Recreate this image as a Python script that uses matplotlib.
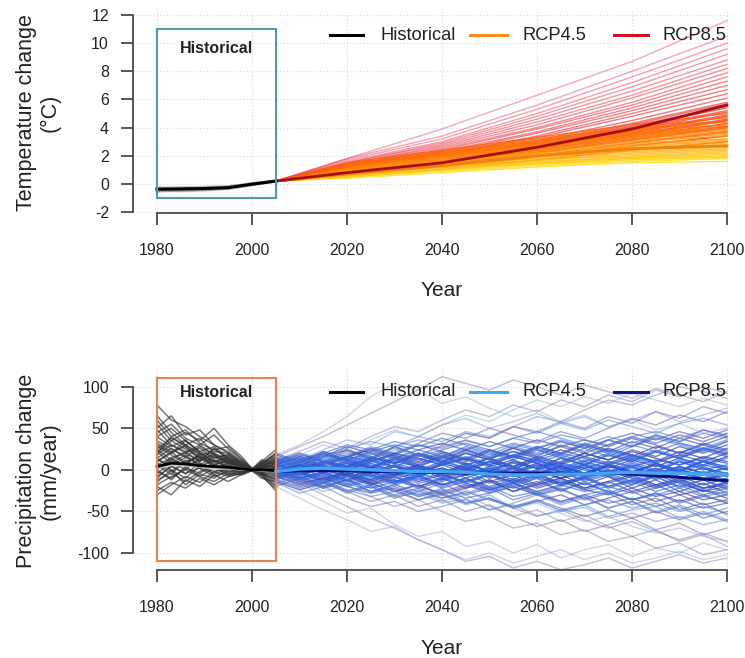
import matplotlib
matplotlib.use('Agg')
import matplotlib.pyplot as plt
import numpy as np
from matplotlib.lines import Line2D
from matplotlib.patches import Rectangle
from matplotlib.colors import to_rgb

plt.rcParams['font.family'] = ['Liberation Sans', 'DejaVu Sans']
plt.rcParams['axes.unicode_minus'] = False

# ---------------- DATA ----------------
# Temperature change (degC)
T_HIST_YEARS = [1980, 1985, 1990, 1995, 2000, 2005]
T_HIST_MEAN = [-0.38, -0.36, -0.33, -0.27, -0.02, 0.20]
T_HIST_MEMBERS = [
    [-0.30, -0.25, -0.28, -0.20, 0.00, 0.20],
    [-0.45, -0.48, -0.40, -0.32, -0.05, 0.20],
    [-0.50, -0.42, -0.45, -0.35, -0.08, 0.20],
    [-0.35, -0.30, -0.22, -0.18, 0.02, 0.20],
    [-0.42, -0.52, -0.44, -0.30, -0.04, 0.20],
    [-0.28, -0.34, -0.30, -0.24, 0.01, 0.20],
    [-0.55, -0.45, -0.38, -0.28, -0.06, 0.20],
]

T_FUT_YEARS = [2005, 2020, 2040, 2060, 2080, 2100]
T_RCP45_MEAN = [0.2, 0.7, 1.3, 2.0, 2.5, 2.7]
T_RCP85_MEAN = [0.2, 0.8, 1.5, 2.6, 3.9, 5.6]
T_RCP45_MEMBERS = [
    [0.2, 0.4, 0.8, 1.2, 1.5, 1.6],
    [0.2, 0.5, 0.9, 1.3, 1.6, 1.8],
    [0.2, 0.5, 1.1, 1.4, 1.8, 1.9],
    [0.2, 0.5, 1.0, 1.4, 1.7, 1.9],
    [0.2, 0.6, 1.0, 1.5, 1.8, 2.0],
    [0.2, 0.6, 1.1, 1.5, 1.9, 2.1],
    [0.2, 0.7, 1.1, 1.6, 1.9, 2.2],
    [0.2, 0.6, 1.2, 1.7, 2.0, 2.3],
    [0.2, 0.7, 1.2, 1.7, 2.1, 2.4],
    [0.2, 0.8, 1.3, 1.8, 2.2, 2.5],
    [0.2, 0.7, 1.3, 1.9, 2.3, 2.6],
    [0.2, 0.8, 1.4, 1.9, 2.4, 2.7],
    [0.2, 0.9, 1.4, 2.0, 2.5, 2.8],
    [0.2, 0.8, 1.5, 2.1, 2.6, 2.9],
    [0.2, 0.9, 1.5, 2.2, 2.7, 3.0],
    [0.2, 1.0, 1.6, 2.2, 2.8, 3.1],
    [0.2, 0.9, 1.6, 2.3, 2.9, 3.2],
    [0.2, 1.0, 1.7, 2.4, 3.0, 3.4],
    [0.2, 1.1, 1.8, 2.5, 3.1, 3.5],
    [0.2, 1.0, 1.8, 2.6, 3.2, 3.6],
    [0.2, 1.1, 1.9, 2.7, 3.3, 3.7],
    [0.2, 1.1, 1.9, 2.7, 3.4, 3.8],
    [0.2, 1.2, 2.0, 2.8, 3.5, 3.9],
    [0.2, 1.2, 2.0, 2.8, 3.5, 4.0],
    [0.2, 1.2, 2.1, 2.9, 3.6, 4.1],
    [0.2, 1.2, 2.1, 2.9, 3.7, 4.2],
    [0.2, 1.3, 2.2, 3.0, 3.8, 4.4],
    [0.2, 1.3, 2.2, 3.1, 3.9, 4.5],
    [0.2, 1.4, 2.3, 3.2, 4.0, 4.7],
    [0.2, 1.5, 2.4, 3.3, 4.2, 5.0],
]
T_RCP85_MEMBERS = [
    [0.2, 0.5, 1.0, 1.7, 2.4, 3.0],
    [0.2, 0.6, 1.1, 1.9, 2.7, 3.4],
    [0.2, 0.6, 1.2, 2.0, 2.9, 3.7],
    [0.2, 0.7, 1.3, 2.2, 3.1, 4.0],
    [0.2, 0.7, 1.3, 2.2, 3.2, 4.1],
    [0.2, 0.7, 1.4, 2.3, 3.3, 4.3],
    [0.2, 0.8, 1.4, 2.4, 3.4, 4.5],
    [0.2, 0.8, 1.5, 2.4, 3.5, 4.6],
    [0.2, 0.8, 1.5, 2.5, 3.6, 4.8],
    [0.2, 0.8, 1.5, 2.5, 3.7, 4.9],
    [0.2, 0.9, 1.6, 2.6, 3.8, 5.1],
    [0.2, 0.9, 1.6, 2.7, 3.9, 5.2],
    [0.2, 0.9, 1.7, 2.7, 4.0, 5.4],
    [0.2, 0.9, 1.7, 2.8, 4.1, 5.5],
    [0.2, 1.0, 1.8, 2.9, 4.2, 5.7],
    [0.2, 1.0, 1.8, 3.0, 4.3, 5.8],
    [0.2, 1.0, 1.9, 3.1, 4.5, 6.1],
    [0.2, 1.1, 2.0, 3.3, 4.8, 6.4],
    [0.2, 1.1, 2.1, 3.4, 5.0, 6.7],
    [0.2, 1.2, 2.2, 3.6, 5.2, 7.0],
    [0.2, 1.2, 2.3, 3.7, 5.4, 7.3],
    [0.2, 1.3, 2.4, 3.9, 5.6, 7.6],
    [0.2, 1.3, 2.5, 4.0, 5.8, 7.9],
    [0.2, 1.4, 2.6, 4.2, 6.1, 8.2],
    [0.2, 1.4, 2.7, 4.4, 6.3, 8.5],
    [0.2, 1.5, 2.8, 4.6, 6.6, 8.8],
    [0.2, 1.5, 2.9, 4.8, 6.9, 9.2],
    [0.2, 1.6, 3.0, 5.0, 7.2, 9.6],
    [0.2, 1.7, 3.2, 5.3, 7.6, 10.0],
    [0.2, 1.8, 3.4, 5.6, 8.0, 10.5],
    [0.2, 1.8, 3.9, 6.3, 8.7, 11.6],
]

# Precipitation change (mm/year)
P_HIST_YEARS = [1980, 1983, 1986, 1989, 1992, 1995, 1998, 2000, 2002, 2005]
P_HIST_MEAN = [4, 8, 7, 5, 4, 3, 1, 0, 0, -1]
P_HIST_MEAN2 = [2, 6, 5, 4, 1, 2, 0, 0, -1, -2]
P_HIST_MEMBERS = [
    [78, 60, 52, 40, 30, 22, 10, 0, 8, 20],
    [45, 55, 38, 30, 42, 25, 12, 1, -6, -18],
    [30, 20, 35, 22, 15, 18, 6, -1, 10, 24],
    [-25, -15, -22, -10, -18, -8, -4, 0, -8, -22],
    [10, 22, 8, 18, 6, 12, 3, 0, 5, 12],
    [60, 40, 48, 32, 24, 28, 12, 2, -4, 4],
    [-10, 5, -5, 8, -6, 2, -2, 0, 6, -5],
    [20, 35, 45, 35, 50, 30, 15, 1, 12, 6],
    [0, -12, 4, -8, -14, -4, -6, -1, -10, -14],
    [35, 25, 15, 28, 18, 8, 4, 0, 3, 15],
    [-20, -30, -12, -20, -6, -14, -5, 0, 4, 10],
    [50, 65, 42, 48, 30, 20, 8, 1, 10, 2],
    [5, -5, 12, 2, -4, 6, 2, 0, -4, -10],
    [25, 12, 22, 10, 20, 10, 5, 0, -3, 8],
    [-5, 10, 0, 14, 4, -6, -3, -1, 8, 18],
    [40, 28, 36, 20, 10, 16, 6, 0, -6, -2],
    [15, 0, -10, 5, -2, 4, 0, 0, 2, -8],
    [65, 45, 30, 38, 20, 12, 6, 1, 4, 12],
    [-15, 0, -18, -5, -10, 0, -2, 0, 5, 20],
    [20, 40, 28, 12, 25, 15, 7, 0, -5, -15],
    [10, 20, 30, 20, 12, 4, 2, 0, 6, 0],
    [-30, -18, -8, -15, -2, -8, -4, -1, -6, -25],
    [55, 35, 25, 15, 6, 10, 4, 0, 2, 8],
    [0, 15, 20, 10, 26, 12, 6, 0, -2, 2],
    [12, 5, 15, 8, 2, 8, 3, 0, -3, -8],
    [28, 18, 8, 16, 10, 4, 2, 0, 4, 10],
    [-8, 4, -4, 2, -8, -2, -3, 0, 2, 6],
    [18, 30, 22, 26, 14, 18, 8, 1, -4, -12],
    [6, 14, 4, 12, 18, 8, 4, 0, 7, 14],
    [40, 50, 35, 22, 28, 14, 7, 1, 3, -4],
    [-12, -4, -14, -2, 4, -4, -1, 0, -5, -12],
    [22, 8, 18, 4, 12, 2, 1, 0, 6, 3],
    [2, 12, 6, 20, 10, 14, 5, 0, -2, 4],
    [32, 22, 28, 16, 8, 12, 3, 0, 8, 16],
    [-18, -8, 0, -8, 2, -6, -2, 0, -4, 0],
    [14, 26, 16, 6, 16, 6, 2, 0, 3, -6],
    [48, 30, 20, 30, 18, 10, 5, 1, -2, 10],
    [-2, -10, 2, -4, 6, 2, 1, 0, 2, -2],
    [8, -2, 10, 16, 4, -2, 0, 0, -6, -20],
    [25, 38, 30, 18, 22, 20, 9, 1, 5, 0],
]

P_FUT_YEARS = [2005, 2010, 2015, 2020, 2025, 2030, 2035, 2040, 2045, 2050,
               2055, 2060, 2065, 2070, 2075, 2080, 2085, 2090, 2095, 2100]
P_RCP45_MEAN = [-2, 1, 2, 1, 0, -1, -2, -2, -3, -5, -6, -6, -5, -5, -4, -3, -4, -4, -5, -6]
P_RCP85_MEAN = [-2, -1, -1, -1, -2, -2, -3, -3, -4, -4, -4, -4, -4, -5, -4, -5, -7, -9, -11, -13]
P_RCP45_MEMBERS = [
    [5, 12, 8, 18, 25, 20, 30, 26, 35, 28, 38, 32, 42, 36, 30, 40, 46, 38, 48, 42],
    [-8, -18, -12, -25, -20, -32, -28, -40, -35, -48, -42, -55, -50, -45, -58, -52, -62, -56, -66, -60],
    [2, -6, 6, 0, 10, 4, -4, 8, 14, 6, 18, 10, 2, 12, 6, 16, 8, 0, 10, 4],
    [15, 8, 22, 12, 4, 16, 6, -6, 5, -8, 2, -10, -2, -14, -6, -16, -8, -20, -12, -22],
    [-18, -6, -20, -10, -28, -16, -32, -22, -40, -30, -46, -36, -50, -42, -56, -48, -44, -58, -50, -60],
    [0, 12, 24, 36, 30, 46, 40, 54, 62, 50, 58, 68, 56, 64, 52, 60, 70, 58, 66, 74],
    [-4, -12, -6, -18, -10, -2, -12, -4, -16, -6, -20, -10, -26, -14, -28, -18, -8, -22, -12, -24],
    [10, 2, 16, 24, 12, 28, 18, 8, 22, 14, 28, 20, 34, 26, 16, 28, 38, 30, 22, 34],
    [-10, -24, -38, -52, -46, -66, -80, -74, -92, -86, -100, -90, -106, -96, -90, -104, -94, -100, -88, -96],
    [6, -2, 10, 0, -8, 4, -6, 6, -4, 10, 0, 12, 2, -8, 6, -6, 8, -2, 12, 2],
    [18, 30, 46, 64, 88, 104, 96, 80, 88, 74, 64, 72, 58, 66, 52, 60, 48, 56, 44, 50],
    [-2, 8, -4, 6, 16, 8, 20, 12, 2, 14, 4, -6, 6, -4, 8, -2, -12, 0, -10, -4],
    [12, 20, 14, 26, 34, 28, 40, 34, 46, 40, 52, 44, 56, 48, 60, 52, 44, 56, 62, 54],
    [-12, -4, -16, -26, -18, -30, -22, -34, -28, -20, -32, -26, -38, -30, -24, -36, -28, -40, -32, -38],
    [4, 14, 6, -4, -14, -8, -20, -30, -24, -36, -46, -40, -52, -62, -56, -68, -76, -70, -80, -86],
    [-6, 4, 14, 8, 20, 14, 4, 16, 26, 18, 30, 24, 14, 26, 36, 28, 40, 32, 26, 36],
    [20, 10, 0, 8, -4, 6, -6, 2, -10, 0, 10, 2, 14, 6, -4, 8, -2, 10, 0, 6],
    [-15, -28, -20, -34, -44, -38, -50, -44, -36, -48, -40, -30, -42, -34, -46, -38, -50, -42, -54, -46],
    [8, 18, 30, 22, 36, 48, 40, 54, 66, 58, 72, 84, 76, 88, 80, 92, 84, 76, 86, 78],
    [-3, -10, -2, -12, -22, -14, -6, -18, -10, -22, -14, -4, -16, -8, -20, -12, -2, -14, -6, -16],
    [3, -8, -20, -12, -26, -18, -10, -22, -14, -4, -16, -8, 2, -10, -2, 10, 0, 12, 4, -6],
    [-20, -34, -48, -60, -74, -68, -84, -96, -108, -100, -112, -104, -96, -108, -100, -112, -106, -98, -108, -102],
    [14, 6, 18, 10, 22, 30, 24, 16, 28, 20, 12, 24, 16, 6, 18, 10, 22, 14, 4, 14],
    [-7, 2, -8, 4, -6, -16, -8, -20, -12, -24, -16, -28, -20, -10, -22, -14, -26, -18, -30, -22],
    [-3, 5, -2, 8, 0, 10, 4, -4, 6, -2, 8, 2, -6, 4, -4, 6, -2, 10, 2, -4],
    [8, 14, 6, 16, 10, 20, 12, 22, 14, 24, 16, 8, 18, 10, 20, 12, 22, 14, 24, 16],
    [-10, -4, -14, -8, -18, -12, -22, -14, -6, -16, -10, -20, -12, -24, -16, -8, -18, -12, -22, -14],
    [0, -10, -4, -14, -6, -16, -8, 2, -6, 4, -4, 6, -2, -12, -4, -14, -6, 4, -4, -12],
    [12, 4, 10, 2, 12, 4, 14, 6, 16, 8, 18, 28, 20, 30, 22, 14, 24, 16, 26, 20],
    [-6, -14, -22, -16, -26, -20, -30, -24, -34, -28, -20, -30, -24, -34, -26, -36, -30, -22, -32, -26],
    [4, 10, 18, 12, 4, 12, 20, 14, 6, 14, 22, 16, 8, 16, 24, 18, 10, 18, 26, 20],
    [-2, 6, 0, -8, -2, -10, -4, -12, -6, 2, -6, 0, 8, 2, 10, 4, -4, 4, -4, 2],
    [6, -2, -10, -4, -12, -2, -8, 0, -6, 2, -4, 4, -2, 6, -2, 4, 12, 6, 14, 8],
    [-8, 0, 8, 16, 10, 20, 14, 6, 14, 6, -2, 6, -2, 8, 0, -8, 0, -10, -2, -8],
    [2, 12, 20, 30, 24, 34, 28, 38, 30, 22, 32, 26, 36, 28, 20, 30, 22, 32, 24, 34],
    [-12, -20, -14, -24, -32, -26, -36, -30, -40, -34, -44, -38, -48, -42, -36, -46, -40, -50, -44, -52],
    [10, 18, 12, 4, 14, 8, 0, 10, 2, -6, 4, -4, 6, 0, -8, 2, -6, 4, -4, 2],
    [-4, -10, -16, -8, 0, -8, -16, -10, -18, -26, -18, -10, -18, -26, -20, -28, -22, -14, -24, -30],
    [0, 8, 16, 8, 18, 26, 18, 28, 36, 28, 38, 46, 38, 30, 40, 32, 42, 34, 44, 38],
    [6, 0, 8, 14, 6, -2, 4, -4, 2, 10, 18, 12, 20, 14, 6, 14, 6, -2, 6, 0],
]
P_RCP85_MEMBERS = [
    [-5, 6, -4, 10, 2, 14, 6, 18, 10, 22, 14, 26, 18, 30, 22, 34, 26, 38, 30, 40],
    [10, 0, -12, -4, -16, -26, -18, -30, -42, -34, -46, -56, -48, -60, -70, -62, -74, -84, -76, -86],
    [-12, -22, -14, -28, -20, -34, -26, -16, -30, -22, -36, -28, -40, -32, -46, -38, -52, -44, -58, -50],
    [6, 16, 8, 22, 14, 28, 36, 30, 44, 38, 52, 46, 58, 50, 64, 56, 70, 62, 76, 68],
    [0, -8, 4, -6, -16, -8, -20, -12, -2, -14, -6, -18, -10, -22, -14, -26, -18, -30, -24, -34],
    [18, 8, 20, 12, 2, 14, 4, 16, 8, -2, 10, 2, 14, 6, 18, 10, 22, 14, 26, 18],
    [-16, -6, -18, -8, -20, -32, -24, -38, -30, -44, -56, -48, -62, -54, -68, -80, -72, -86, -78, -92],
    [4, 12, 4, 14, 26, 18, 30, 22, 12, 24, 16, 28, 20, 32, 24, 16, 28, 20, 32, 24],
    [-8, -18, -10, -2, -14, -6, 4, -8, 2, -10, -2, 8, -4, 6, -6, 4, -8, 2, -12, -4],
    [12, 22, 34, 26, 40, 52, 46, 60, 72, 64, 78, 70, 84, 76, 90, 82, 96, 88, 100, 92],
    [-2, -14, -26, -18, -32, -44, -36, -50, -62, -56, -70, -64, -78, -72, -86, -80, -94, -88, -102, -96],
    [8, -2, 6, -6, 4, -8, 2, -10, 0, 10, 2, 12, 4, -6, 6, -4, 8, -2, 10, 0],
    [-20, -10, -22, -12, -2, -14, -6, -18, -10, -24, -16, -30, -22, -36, -28, -42, -34, -48, -40, -54],
    [2, 12, 22, 16, 28, 20, 32, 44, 38, 50, 42, 34, 46, 38, 50, 62, 54, 66, 58, 70],
    [-10, 2, -8, -20, -12, -24, -36, -28, -40, -34, -46, -38, -30, -42, -34, -26, -38, -30, -42, -36],
    [14, 4, 16, 28, 20, 8, 20, 10, 24, 14, 4, 16, 8, 20, 12, 24, 16, 28, 20, 30],
    [-4, -16, -30, -44, -58, -70, -84, -96, -110, -104, -118, -110, -120, -114, -106, -118, -110, -102, -112, -106],
    [6, -4, 8, 20, 12, 24, 16, 30, 44, 38, 52, 64, 58, 72, 84, 78, 90, 100, 94, 86],
    [-14, -24, -16, -6, -18, -8, -20, -10, -22, -12, -26, -16, -6, -18, -8, -22, -12, -26, -16, -28],
    [0, 10, 0, 12, 4, -6, 6, -4, 8, -2, -12, 0, -10, 2, -8, -18, -6, -16, -26, -14],
    [10, 20, 10, 24, 14, 28, 18, 8, 20, 12, 26, 16, 30, 22, 36, 28, 42, 34, 48, 40],
    [-6, -20, -12, -26, -38, -30, -44, -36, -50, -42, -56, -68, -60, -74, -66, -58, -72, -64, -78, -70],
    [16, 28, 40, 54, 68, 82, 96, 112, 104, 96, 108, 100, 90, 102, 94, 86, 98, 90, 82, 94],
    [-10, -2, -14, -4, -16, -26, -18, -30, -22, -14, -26, -18, -10, -22, -14, -6, -18, -10, -22, -16],
    [3, -5, 2, -8, -2, 6, -2, 8, 0, -8, 2, -6, 4, -4, 6, -2, -10, -2, -12, -6],
    [-6, 2, 10, 4, 14, 8, 18, 10, 20, 12, 4, 14, 6, 16, 8, 18, 10, 22, 14, 26],
    [10, 4, -4, 4, -6, -14, -8, -18, -10, -20, -12, -22, -14, -24, -30, -22, -32, -26, -36, -30],
    [-2, -10, -4, -12, -4, 4, -4, 6, 14, 6, 16, 8, 0, 10, 2, 12, 4, 14, 6, 16],
    [5, 12, 20, 12, 22, 14, 24, 32, 24, 34, 26, 36, 28, 20, 30, 40, 32, 42, 34, 44],
    [-8, -16, -10, -20, -28, -22, -32, -26, -18, -28, -20, -30, -38, -30, -40, -34, -44, -36, -46, -40],
    [0, 6, -2, 4, 12, 4, -4, 2, -6, 0, -8, -2, -10, -4, 4, -2, 6, -4, 2, -8],
    [8, 16, 10, 2, 10, 18, 10, 20, 12, 4, 12, 2, 10, 20, 12, 22, 14, 6, 16, 10],
    [-4, -12, -20, -12, -4, -12, -20, -28, -20, -12, -22, -14, -24, -16, -26, -36, -28, -38, -30, -40],
    [2, -6, 2, 10, 2, 12, 4, 14, 24, 16, 26, 18, 28, 36, 28, 38, 30, 20, 30, 22],
    [-10, -4, -12, -4, -14, -6, 2, -6, -14, -6, -16, -8, -18, -10, -2, -10, -20, -12, -22, -18],
    [4, 12, 4, -4, -12, -4, -14, -6, -16, -24, -16, -26, -18, -10, -20, -12, -22, -14, -26, -20],
    [-2, 8, 16, 24, 16, 8, 16, 24, 32, 24, 16, 26, 34, 26, 36, 44, 36, 46, 38, 48],
    [12, 2, 10, 0, 8, -2, 6, -4, 4, -6, -14, -6, -16, -8, 0, -8, 2, -8, -18, -10],
    [-5, -14, -6, -16, -8, -18, -26, -34, -26, -36, -44, -36, -46, -56, -48, -58, -50, -60, -52, -62],
    [6, 14, 6, 16, 24, 16, 8, 16, 6, 14, 22, 14, 24, 16, 26, 18, 8, 18, 10, 20],
]

X_TICKS = [1980, 2000, 2020, 2040, 2060, 2080, 2100]
T_YTICKS = [-2, 0, 2, 4, 6, 8, 10, 12]
P_YTICKS = [-100, -50, 0, 50, 100]
LEGEND_LABELS = ["Historical", "RCP4.5", "RCP8.5"]

# ---------------- FIGURE ----------------
W, H = 745, 658
fig = plt.figure(figsize=(W / 100, H / 100), dpi=100)

def yr2px(y):
    return 157 + (y - 1980) * 4.75

def axes_px(left, top, right, bottom):
    return fig.add_axes([left / W, 1 - bottom / H, (right - left) / W, (bottom - top) / H])

ax1 = axes_px(yr2px(1975), 10.8, yr2px(2101), 213)
ax2 = axes_px(yr2px(1975), 368.4, yr2px(2101), 570)

SPINE = '#4a4a4a'
for ax, yt in ((ax1, T_YTICKS), (ax2, P_YTICKS)):
    ax.set_xlim(1975, 2101)
    for s in ('top', 'right'):
        ax.spines[s].set_visible(False)
    for s in ('left', 'bottom'):
        ax.spines[s].set_color(SPINE)
        ax.spines[s].set_linewidth(1.3)
    ax.spines['bottom'].set_bounds(X_TICKS[0], X_TICKS[-1])
    ax.spines['left'].set_bounds(yt[0], yt[-1])
    ax.set_xticks(X_TICKS)
    ax.set_yticks(yt)
    ax.tick_params(axis='both', direction='out', length=8.5, width=1.3, color=SPINE,
                   labelsize=11.5, labelcolor='#222222')
    ax.tick_params(axis='x', pad=13)
    ax.tick_params(axis='y', pad=9)
    ax.grid(True, linestyle=(0, (1, 2)), color='#d9d9d9', linewidth=0.8, zorder=0)
    ax.set_axisbelow(True)

ax1.set_ylim(-2.07, 12.3)
ax2.set_ylim(-120.4, 122)

def lerp(c1, c2, t):
    a, b = np.array(to_rgb(c1)), np.array(to_rgb(c2))
    return tuple(a + (b - a) * t)

# ---- Temperature panel ----
for m in T_HIST_MEMBERS:
    ax1.plot(T_HIST_YEARS, m, color='#808080', lw=2.0, alpha=0.35, zorder=2)
ax1.plot(T_HIST_YEARS, T_HIST_MEAN, color='black', lw=2.2, zorder=6)

n85 = len(T_RCP85_MEMBERS)
for i, m in enumerate(T_RCP85_MEMBERS):
    t = i / (n85 - 1)
    ax1.plot(T_FUT_YEARS, m, color=lerp('#f03010', '#e8284a', t), lw=1.0,
             alpha=0.9 - 0.5 * t, zorder=2)
n45 = len(T_RCP45_MEMBERS)
for i, m in enumerate(T_RCP45_MEMBERS):
    t = i / (n45 - 1)
    ax1.plot(T_FUT_YEARS, m, color=lerp('#ffe01e', '#ff6000', t), lw=1.0,
             alpha=0.85, zorder=3)
ax1.plot(T_FUT_YEARS, T_RCP45_MEAN, color='#f08010', lw=2.0, zorder=5)
ax1.plot(T_FUT_YEARS, T_RCP85_MEAN, color='#a80c18', lw=2.0, zorder=5)

ax1.add_patch(Rectangle((1980, -1), 25, 12, fill=False, edgecolor='#4e9bab', lw=1.5, zorder=7))
ax1.text(1992.5, 9.6, "Historical", ha='center', va='center', fontsize=11.5,
         fontweight='bold', color='#222222', zorder=8)

# ---- Precipitation panel ----
for m in P_HIST_MEMBERS:
    ax2.plot(P_HIST_YEARS, m, color='#353535', lw=1.1, alpha=0.68, zorder=2)
ax2.plot(P_HIST_YEARS, P_HIST_MEAN2, color='#c8c8c8', lw=1.6, zorder=5)
ax2.plot(P_HIST_YEARS, P_HIST_MEAN, color='black', lw=2.0, zorder=6)

def spread_t(m):
    return min(1.0, max(abs(v) for v in m) / 90.0)

for m in P_RCP85_MEMBERS:
    t = spread_t(m)
    ax2.plot(P_FUT_YEARS, m, color=lerp('#1c28b4', '#7474a8', t), lw=1.0,
             alpha=0.8 - 0.35 * t, zorder=2)
for m in P_RCP45_MEMBERS:
    t = spread_t(m)
    ax2.plot(P_FUT_YEARS, m, color=lerp('#1250e6', '#88a8d8', t), lw=1.0,
             alpha=0.8 - 0.35 * t, zorder=3)
ax2.plot(P_FUT_YEARS, P_RCP85_MEAN, color='#0c0c7a', lw=2.2, zorder=5)
ax2.plot(P_FUT_YEARS, P_RCP45_MEAN, color='#3ea6f2', lw=2.4, zorder=6)

ax2.add_patch(Rectangle((1980, -110), 25, 220, fill=False, edgecolor='#e8824f', lw=1.5, zorder=7))
ax2.text(1992.5, 93.6, "Historical", ha='center', va='center', fontsize=11.5,
         fontweight='bold', color='#222222', zorder=8)

# ---- Legends (drawn in figure pixels, like R's legend layout) ----
LEG_HANDLE_PX = [(330, 363, 380), (470, 507, 522), (614, 648, 663)]

def add_legend(colors, ypx):
    yf = 1 - ypx / H
    for (x0, x1, xt), c, lab in zip(LEG_HANDLE_PX, colors, LEGEND_LABELS):
        fig.add_artist(Line2D([x0 / W, x1 / W], [yf, yf], transform=fig.transFigure,
                              color=c, lw=2.2, zorder=20))
        fig.text(xt / W, yf, lab, ha='left', va='center', fontsize=13.2,
                 color='#222222', zorder=20)

add_legend(['black', '#ff8c1a', '#d0101e'], 35)
add_legend(['black', '#3ea6f2', '#14148a'], 392)

# ---- Axis labels ----
fig.text(38 / W, 1 - 113 / H, "Temperature change\n(°C)", rotation=90, ha='center',
         va='center', fontsize=15.5, multialignment='center', linespacing=1.15, color='#222222')
fig.text(38 / W, 1 - 471 / H, "Precipitation change\n(mm/year)", rotation=90, ha='center',
         va='center', fontsize=15.5, multialignment='center', linespacing=1.15, color='#222222')
fig.text(442 / W, 1 - 291 / H, "Year", ha='center', va='center', fontsize=15, color='#222222')
fig.text(442 / W, 1 - 648 / H, "Year", ha='center', va='center', fontsize=15, color='#222222')

fig.savefig('out.png', dpi=100)
